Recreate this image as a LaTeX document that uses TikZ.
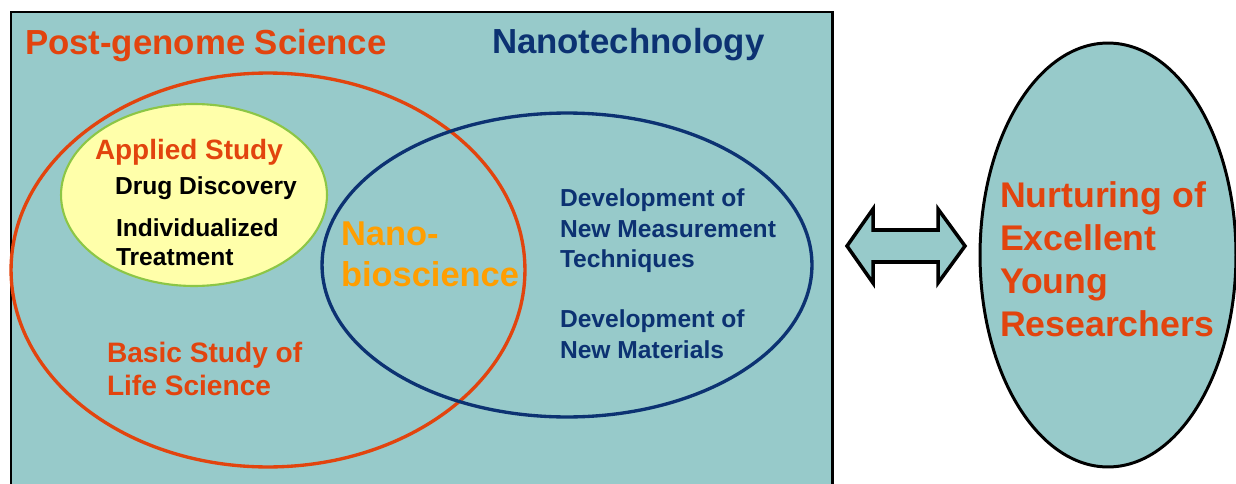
\documentclass[tikz,border=0pt]{standalone}
\usepackage{fontspec}
\setmainfont{Liberation Sans}
\usetikzlibrary{shapes.geometric}
\definecolor{bg}{RGB}{151,202,202}
\definecolor{redt}{RGB}{226,68,14}
\definecolor{navy}{RGB}{12,50,114}
\definecolor{orng}{RGB}{255,158,0}
\definecolor{yel}{RGB}{255,255,170}
\definecolor{grn}{RGB}{140,198,70}
\begin{document}
\begin{tikzpicture}[x=0.02cm,y=-0.02cm,
  txt/.style={inner sep=0pt, outer sep=0pt, align=left},
  oval/.style={ellipse, inner sep=0pt, outer sep=0pt},
  f14/.style={font=\bfseries\fontsize{14}{17.3}\selectfont},
  f16/.style={font=\bfseries\fontsize{16}{18.7}\selectfont},
  f20/.style={font=\bfseries\fontsize{19.8}{24}\selectfont}]
\useasboundingbox (0,0) rectangle (1236,483);
\begin{scope}
  \clip (0,0) rectangle (1236,483);
  \draw[line width=1.7pt, fill=bg] (11,12) rectangle (832,520);
\end{scope}
% ovals
\node[oval, draw=grn, fill=yel, line width=1.2pt, minimum width=5.32cm, minimum height=3.64cm] (applied) at (194,195) {};
\node[oval, draw=redt, line width=1.9pt, minimum width=10.28cm, minimum height=7.88cm] (post) at (268,270) {};
\node[oval, draw=navy, line width=1.9pt, minimum width=9.8cm, minimum height=6.08cm] (nanotech) at (567,265) {};
\node[oval, draw=black, fill=bg, line width=1.7pt, minimum width=5.12cm, minimum height=8.48cm] (young) at (1108,255) {};
% double arrow
\coordinate (aL) at (847,246);
\coordinate (aR) at (965,246);
\draw[line width=2pt, fill=bg, line join=miter]
  (aL) -- (873,209) -- (873,230) -- (938,230) -- (938,209) -- (aR)
  -- (938,283) -- (938,262) -- (873,262) -- (873,283) -- cycle;
% texts
\node[txt, f20, text=redt, anchor=base west] (t1) at (25,55) {Post-genome Science};
\node[txt, f20, text=navy, anchor=base west] (t2) at (492,54) {Nanotechnology};
\node[txt, text=redt, anchor=base west, font=\bfseries\fontsize{15.9}{19}\selectfont] (t3) at (95,159) {Applied Study};
\node[txt, f14, text=black, anchor=base west] (t4) at (115,194) {Drug Discovery};
\node[txt, text=black, anchor=north west, font=\bfseries\fontsize{14}{16.4}\selectfont] (t5) at (116,219) {Individualized\\Treatment};
\node[txt, text=orng, anchor=north west, font=\bfseries\fontsize{19.6}{23.2}\selectfont] (t6) at (341,222) {Nano-\\bioscience};
\node[txt, f14, text=navy, anchor=north west] (t7) at (560,189) {Development of\\New Measurement\\Techniques};
\node[txt, f14, text=navy, anchor=north west] (t8) at (560,310) {Development of\\New Materials};
\node[txt, f16, text=redt, anchor=north west] (t9) at (107,342) {Basic Study of\\Life Science};
\node[txt, text=redt, anchor=north west, font=\bfseries\fontsize{20.3}{24.5}\selectfont] (t10) at (1000,182) {Nurturing of\\Excellent\\Young\\Researchers};
\end{tikzpicture}
\end{document}
